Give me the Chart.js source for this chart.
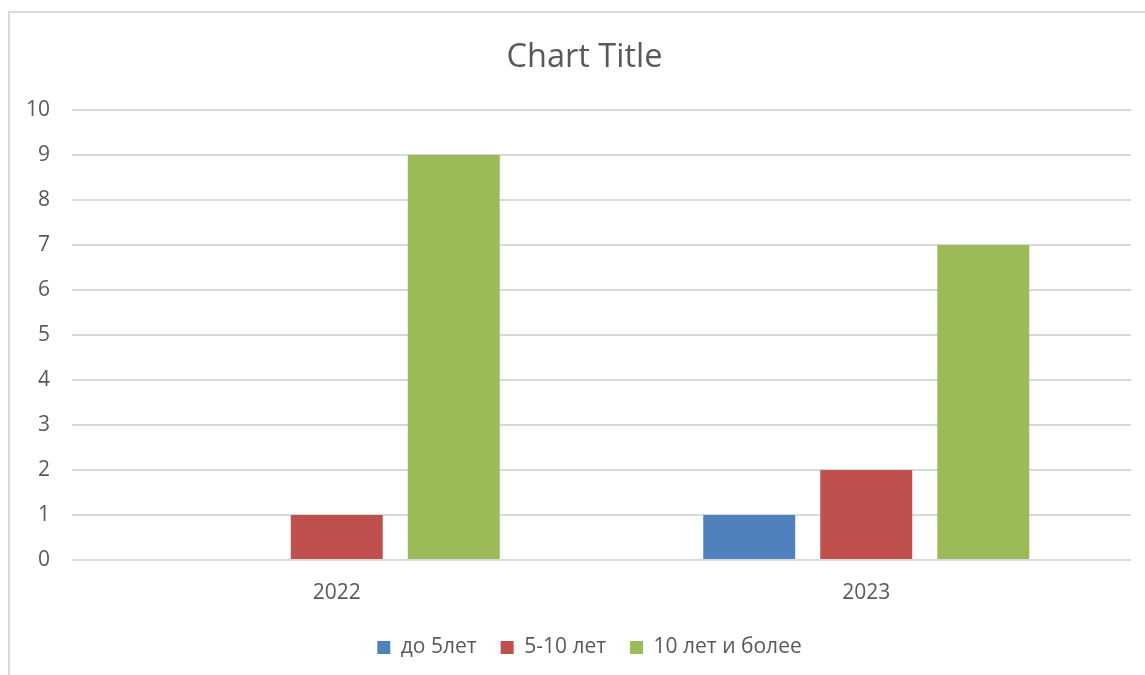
<!DOCTYPE html>
<html>
<head>
<meta charset="utf-8">
<script src="https://cdn.jsdelivr.net/npm/chart.js@4.4.0/dist/chart.umd.min.js"></script>
<style>
  html, body { margin: 0; padding: 0; background: #fff; overflow: hidden; }
  #wrap { position: relative; width: 1145px; height: 675px; }
  #frame { position: absolute; left: 8px; top: 11px; width: 1200px; height: 700px;
           border-left: 2px solid #d9d9d9; border-top: 2px solid #d9d9d9; pointer-events: none; }
</style>
</head>
<body>
<div id="wrap">
  <canvas id="chart" width="1145" height="675"></canvas>
  <div id="frame"></div>
</div>
<script>
const years = ['2022', '2023'];
const upTo5 = [0, 1];
const from5to10 = [1, 2];
const over10 = [9, 7];
const yTicks = [0, 1, 2, 3, 4, 5, 6, 7, 8, 9, 10];

const textColor = '#595959';
const font = "'Open Sans', 'Noto Sans', sans-serif";

// title and legend sit a bit right of the canvas centre in the original
const nudgeBoxes = {
  id: 'nudgeBoxes',
  afterLayout(chart) {
    if (chart.titleBlock) chart.titleBlock.left += 20;
    if (chart.legend) chart.legend.left += 30;
  }
};

const ctx = document.getElementById('chart').getContext('2d');

new Chart(ctx, {
  type: 'bar',
  data: {
    labels: years,
    datasets: [
      { label: 'до 5лет', data: upTo5, backgroundColor: '#4f81bd' },
      { label: '5-10 лет', data: from5to10, backgroundColor: '#c0504d' },
      { label: '10 лет и более', data: over10, backgroundColor: '#9bbb59' }
    ]
  },
  options: {
    responsive: false,
    animation: false,
    barPercentage: 0.786,
    categoryPercentage: 0.663,
    layout: { padding: { left: 18, right: 14, top: 0, bottom: 7 } },
    plugins: {
      title: {
        display: true,
        text: 'Chart Title',
        color: textColor,
        font: { family: font, size: 32.5, weight: 'normal' },
        padding: { top: 38, bottom: 33 }
      },
      legend: {
        position: 'bottom',
        labels: {
          color: textColor,
          font: { family: font, size: 21 },
          boxWidth: 13,
          boxHeight: 13,
          padding: 24
        }
      },
      tooltip: { enabled: false }
    },
    scales: {
      x: {
        grid: { display: false, drawTicks: false },
        border: { display: false },
        ticks: { color: textColor, font: { family: font, size: 21 }, padding: 20 },
        afterFit: (scale) => { scale.height = 53; }
      },
      y: {
        min: 0,
        max: 10,
        afterBuildTicks: (scale) => { scale.ticks = yTicks.map(v => ({ value: v })); },
        grid: { color: '#d9d9d9', lineWidth: 2, drawTicks: false },
        border: { display: false },
        ticks: { color: textColor, font: { family: font, size: 21 }, padding: 22 },
        afterFit: (scale) => { scale.width = 54; }
      }
    }
  },
  plugins: [nudgeBoxes]
});
</script>
</body>
</html>
